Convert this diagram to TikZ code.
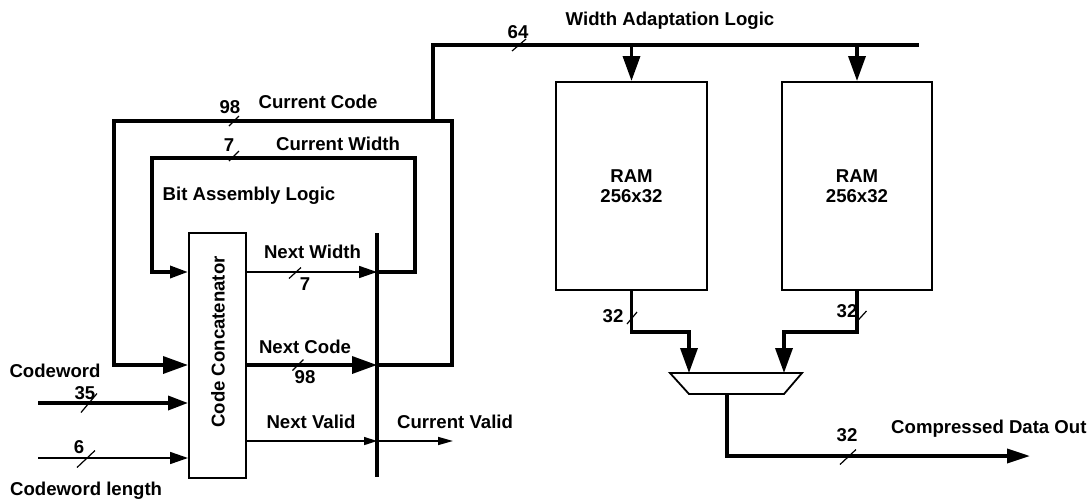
\documentclass[tikz,border=0pt]{standalone}
\usepackage{fontspec}
\setmainfont{Liberation Sans}
\usetikzlibrary{arrows.meta,calc}
\begin{document}
\begin{tikzpicture}[x=1pt,y=-1pt,
  lbl/.style={font=\fontsize{18.6}{20.5}\selectfont\bfseries, inner sep=0pt},
  bus/.style={line width=3.5pt},
  wire/.style={line width=1.6pt},
  box/.style={draw, line width=2pt, inner sep=0pt},
  slash/.style={line width=1.2pt},
  bigtip/.style={-{Triangle[length=25pt,width=17pt]}},
  midtip/.style={-{Triangle[length=18pt,width=12pt]}},
  smalltip/.style={-{Triangle[length=13pt,width=8pt]}},
  intip/.style={-{Triangle[length=20pt,width=14pt]}},
  outtip/.style={-{Triangle[length=23pt,width=14pt]}}]
\useasboundingbox (0,0) rectangle (1088,499);

% ---- bit assembly logic ----
\node[box, minimum width=57pt, minimum height=245pt] (cc) at (217.5,355.5) {};
\node[lbl, rotate=90] (cclbl) at (218,342) {Code Concatenator};

% register bar
\coordinate (barT) at (377,233);
\coordinate (barB) at (377,477);
\draw[line width=4pt] (barT) -- (barB);
\coordinate (nwB) at (377,272);
\coordinate (ncB) at (377,365);
\coordinate (nvB) at (377,441);

% outputs of the concatenator into the register
\draw[wire, midtip] (cc.east |- nwB) -- (nwB);
\draw[bus, bigtip] (cc.east |- ncB) -- (ncB);
\draw[wire, smalltip] (cc.east |- nvB) -- (nvB);
\coordinate (cvEnd) at (453,441);
\draw[wire, {-Triangle[length=15pt,width=8pt]}] (nvB) -- (cvEnd);

% feedback of the current width
\coordinate (cwR) at (415,158);
\coordinate (cwL) at (152,158);
\draw[bus, midtip] (nwB) -| (cwR) -- (cwL) |- (cc.west |- nwB);

% feedback of the current code
\coordinate (ccR) at (452,121);
\coordinate (ccL) at (114,121);
\draw[bus, bigtip] (ncB) -| (ccR) -- (ccL) |- (cc.west |- ncB);

% external inputs
\coordinate (cwIn) at (38,403);
\coordinate (clIn) at (38,458);
\draw[bus, intip] (cwIn) -- (cc.west |- cwIn);
\draw[wire, midtip] (clIn) -- (cc.west |- clIn);

% ---- width adaptation logic ----
\coordinate (tap) at (433,121);
\coordinate (busR) at (919,45);
\draw[bus] (tap) |- (busR);

\node[box, minimum width=151pt, minimum height=208pt, align=center, lbl] (ram1) at (631.5,186) {RAM\\256x32};
\node[box, minimum width=150pt, minimum height=208pt, align=center, lbl] (ram2) at (857,186) {RAM\\256x32};

\draw[bus, bigtip] (ram1.north |- busR) -- (ram1.north);
\draw[bus, bigtip] (ram2.north |- busR) -- (ram2.north);

% output multiplexer
\coordinate (mTL) at (670,373);
\coordinate (mTR) at (802,373);
\coordinate (mBR) at (784,394);
\coordinate (mBL) at (689,394);
\draw[line width=1.8pt, line join=miter] (mTL) -- (mTR) -- (mBR) -- (mBL) -- cycle;
\coordinate (mIn1) at (689,373);
\coordinate (mIn2) at (784,373);
\coordinate (mOut) at (727,394);
\coordinate (j1) at (689,332);
\coordinate (j2) at (784,332);
\draw[bus, bigtip] (ram1.south) |- (j1) -- (mIn1);
\draw[bus, bigtip] (ram2.south) |- (j2) -- (mIn2);
\coordinate (outEnd) at (1030,456);
\draw[bus, outtip] (mOut) |- (outEnd);

% bus width marks
\draw[slash] (234,121) +(-5,5) -- +(5,-5);
\draw[slash] (234,156) +(-5,5) -- +(5,-5);
\draw[slash] (519,45) +(-7,6) -- +(7,-6);
\draw[slash] (295,273) +(-6,5.5) -- +(6,-5.5);
\draw[slash] (298,365) +(-5.5,5.5) -- +(5.5,-5.5);
\draw[slash] (89,403) +(-8,9.5) -- +(8,-9.5);
\draw[slash] (86,459) +(-9,8.5) -- +(9,-8.5);
\draw[slash] (632,318) +(-5,6) -- +(5,-6);
\draw[slash] (861,317) +(-5.5,6) -- +(5.5,-6);
\draw[slash] (848,457) +(-8,7.5) -- +(8,-7.5);

% labels
\node[lbl] (tWAL) at (670,21) {Width Adaptation Logic};
\node[lbl] (t64) at (518,32) {64};
\node[lbl] (tCC) at (318,102) {Current Code};
\node[lbl] (t98a) at (230,107) {98};
\node[lbl] (t7a) at (229,145) {7};
\node[lbl] (tCW) at (338,144) {Current Width};
\node[lbl] (tBAL) at (249,196) {Bit Assembly Logic};
\node[lbl] (tNW) at (312.5,252) {Next Width};
\node[lbl] (t7b) at (305,284) {7};
\node[lbl] (tNC) at (305,347) {Next Code};
\node[lbl] (t98b) at (305,377) {98};
\node[lbl] (tNV) at (311,422) {Next Valid};
\node[lbl, anchor=west] (tCV) at (397,422) {Current Valid};
\node[lbl] (tCWd) at (55,371) {Codeword};
\node[lbl] (t35) at (85,393) {35};
\node[lbl] (t6) at (79,447) {6};
\node[lbl, anchor=west] (tCWL) at (10,491) {Codeword length};
\node[lbl] (t32a) at (613,316) {32};
\node[lbl] (t32b) at (847,311) {32};
\node[lbl] (t32c) at (847,435) {32};
\node[lbl, anchor=west] (tCDO) at (891,429) {Compressed Data Out};
\end{tikzpicture}
\end{document}
